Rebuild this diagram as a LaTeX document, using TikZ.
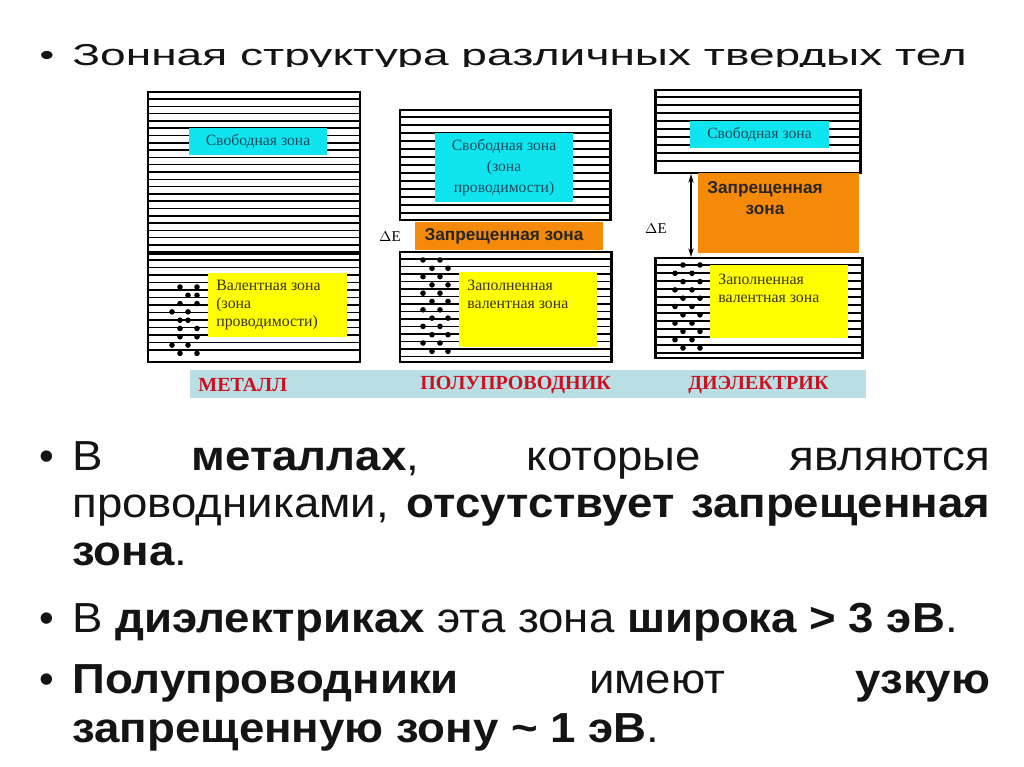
\documentclass[tikz,border=0pt]{standalone}
\usepackage{fontspec}
\setmainfont{Liberation Sans}
\newfontfamily\tnr{Liberation Serif}
\usetikzlibrary{arrows.meta}
\definecolor{cyanbox}{HTML}{10E4EE}
\definecolor{yelbox}{HTML}{FFFF00}
\definecolor{orbox}{HTML}{F5890A}
\definecolor{barbg}{HTML}{B9DFE5}
\definecolor{redlab}{HTML}{CC1020}
\definecolor{tealtxt}{HTML}{1C4B5C}
\definecolor{yeltxt}{HTML}{3A3520}
\definecolor{bodytxt}{HTML}{141414}
\newcommand{\wide}[1]{\scalebox{1.086}[1]{#1}}
\tikzset{
  bandbox/.style={draw=black, line width=1.7pt},
  bandline/.style={draw=black, line width=0.8pt},
  edot/.style={fill=black},
  cyanlab/.style={fill=cyanbox, inner sep=0pt, font=\tnr\fontsize{8.9}{12}\selectfont, text=tealtxt, align=center},
  yellab/.style={fill=yelbox, inner sep=0pt},
  yeltext/.style={anchor=north west, inner sep=0pt, font=\tnr\fontsize{9}{10.1}\selectfont, text=yeltxt, align=left},
  orlab/.style={fill=orbox, inner sep=0pt},
  ortext/.style={inner sep=0pt, font=\bfseries\fontsize{9.8}{11.5}\selectfont, text=black!85, align=center},
  delab/.style={inner sep=0pt, font=\tnr\fontsize{8.5}{10}\selectfont},
  barlab/.style={anchor=west, inner sep=0pt, font=\tnr\bfseries\fontsize{11.4}{13}\selectfont, text=redlab},
  bodyline/.style={anchor=base west, inner sep=0pt, font=\fontsize{23.9}{27}\selectfont, text=bodytxt},
  bul/.style={anchor=base, inner sep=0pt, font=\fontsize{23.9}{27}\selectfont, text=bodytxt}
}
\begin{document}
\begin{tikzpicture}[x=0.02cm,y=-0.02cm]
\useasboundingbox[fill=white] (0,0) rectangle (1024,767);

% title
\node[bul] (tb) at (47,66) {\scalebox{1}[0.72]{\textbullet}};
\node[bodyline] (title) at (72,66) {\scalebox{1.098}[0.72]{Зонная структура различных твердых тел}};
% picture background (covers descenders as in the reference)
\fill[white] (140,67) rectangle (870,405);

% ---------- METAL ----------
\foreach \y in {99,106.3,...,247} \draw[bandline] (148,\y) -- (360,\y);
\foreach \y in {260,267.5,...,357} \draw[bandline] (148,\y) -- (360,\y);
\draw[bandbox] (148,92) rectangle (360,362);
\draw[black, line width=2.2pt] (148,253) -- (360,253);
\foreach \x/\y in {180/287,197/287,188/295.3,197/295.3,180/303.6,197/303.6,172/311.9,188/311.9,
  180/320.2,188/320.2,180/328.5,197/328.5,180/336.8,197/336.8,172/345.1,188/345.1,180/353.4,197/353.4}
  \fill[edot] (\x,\y) circle (2.8);
\node[cyanlab, minimum width={138*0.02cm}, minimum height={27*0.02cm}] (mfree) at (258,141.5) {Свободная зона};
\node[yellab, minimum width={139*0.02cm}, minimum height={64*0.02cm}] (mval) at (277.5,305) {};
\node[yeltext] (mvalt) at (216,280) {Валентная зона\\(зона\\проводимости)};

% ---------- SEMICONDUCTOR ----------
\foreach \y in {117,125,...,214} \draw[bandline] (400,\y) -- (610,\y);
\foreach \y in {259,266.5,...,357} \draw[bandline] (400,\y) -- (611,\y);
\draw[bandbox] (400,110) rectangle (610,220);
\draw[bandbox] (400,252) rectangle (611,362);
\foreach \k in {0,...,11}{
  \pgfmathsetmacro{\yy}{260+8.3*\k}
  \ifodd\k
    \fill[edot] (432,\yy) circle (2.8); \fill[edot] (448,\yy) circle (2.8);
  \else
    \fill[edot] (423,\yy) circle (2.8); \fill[edot] (440,\yy) circle (2.8);
  \fi}
\node[cyanlab, minimum width={138*0.02cm}, minimum height={69*0.02cm}] (sfree) at (504,167.5) {Свободная зона\\(зона\\проводимости)};
\node[orlab, minimum width={188*0.02cm}, minimum height={28*0.02cm}] (sgap) at (509,236) {};
\node[ortext] (sgapt) at (504,236) {Запрещенная зона};
\node[delab] (sde) at (390,237) {$\Delta$E};
\node[yellab, minimum width={138*0.02cm}, minimum height={75*0.02cm}] (sval) at (528,309.5) {};
\node[yeltext] (svalt) at (467,280) {Заполненная\\валентная зона};

% ---------- DIELECTRIC ----------
\foreach \y in {97,105,...,168} \draw[bandline] (655,\y) -- (860,\y);
\foreach \y in {265,273,...,353} \draw[bandline] (655,\y) -- (862,\y);
\draw[bandbox] (655,90) rectangle (860,173);
\draw[bandbox] (655,258) rectangle (862,358);
\foreach \k in {0,...,10}{
  \pgfmathsetmacro{\yy}{265+8.3*\k}
  \ifodd\k
    \fill[edot] (675,\yy) circle (2.8); \fill[edot] (692,\yy) circle (2.8);
  \else
    \fill[edot] (683,\yy) circle (2.8); \fill[edot] (700,\yy) circle (2.8);
  \fi}
\node[cyanlab, minimum width={139*0.02cm}, minimum height={27*0.02cm}] (dfree) at (759.5,134.5) {Свободная зона};
\node[orlab, minimum width={161*0.02cm}, minimum height={80*0.02cm}] (dgap) at (778.5,213) {};
\node[ortext] (dgapt) at (765,198) {Запрещенная\\зона};
\coordinate (dtop) at (691,174);
\coordinate (dbot) at (691,257);
\draw[line width=0.8pt, {Stealth[length=5pt,width=3pt]}-{Stealth[length=5pt,width=3pt]}] (dtop) -- (dbot);
\node[delab] (dde) at (656,229) {$\Delta$E};
\node[yellab, minimum width={138*0.02cm}, minimum height={73*0.02cm}] (dval) at (779,301.5) {};
\node[yeltext] (dvalt) at (718,274) {Заполненная\\валентная зона};

% ---------- label bar ----------
\node[fill=barbg, minimum width={676*0.02cm}, minimum height={28*0.02cm}, inner sep=0pt] (bar) at (528,384) {};
\node[barlab] (lm) at (198,385) {МЕТАЛЛ};
\node[barlab] (ls) at (420,385) {ПОЛУПРОВОДНИК};
\node[barlab] (ld) at (688,385) {ДИЭЛЕКТРИК};

% ---------- body text ----------
\node[bul] (b1) at (47,470) {\textbullet};
\node[bodyline] (l1) at (72,470) {\wide{\makebox[16.906cm][s]{В \textbf{металлах}, которые являются}}};
\node[bodyline] (l2) at (72,517) {\wide{\makebox[16.906cm][s]{проводниками, \textbf{отсутствует запрещенная}}}};
\node[bodyline] (l3) at (72,565) {\wide{\textbf{зона}.}};
\node[bul] (b2) at (47,632) {\textbullet};
\node[bodyline] (l4) at (72,632) {\wide{В \textbf{диэлектриках} эта зона \textbf{широка > 3 эВ}.}};
\node[bul] (b3) at (47,693) {\textbullet};
\node[bodyline] (l5) at (72,693) {\wide{\makebox[16.906cm][s]{\textbf{Полупроводники} имеют \textbf{узкую}}}};
\node[bodyline] (l6) at (72,742) {\wide{\textbf{запрещенную зону \textasciitilde{} 1 эВ}.}};
\end{tikzpicture}
\end{document}
